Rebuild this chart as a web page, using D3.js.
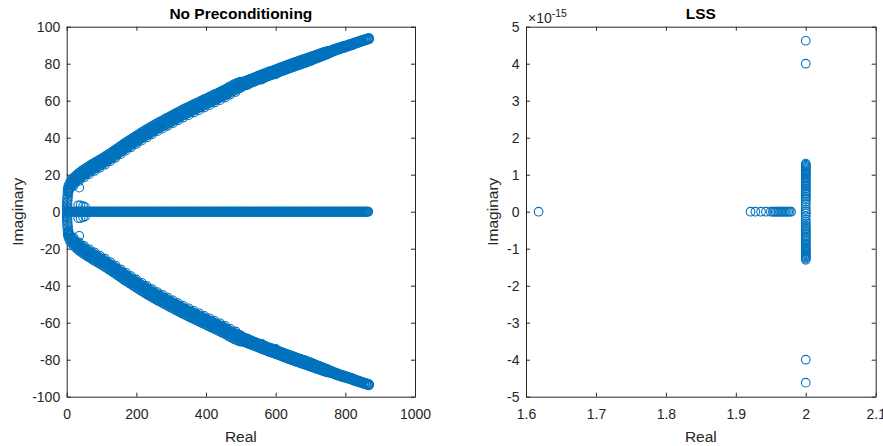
<!DOCTYPE html>
<html>
<head>
<meta charset="utf-8">
<script src="https://cdn.jsdelivr.net/npm/d3@7"></script>
<style>
  body { margin: 0; background: #fff; }
  text { font-family: "Liberation Sans", Arial, Helvetica, sans-serif; }
</style>
</head>
<body>
<svg width="883" height="446"></svg>
<script>
// ---- data: eigenvalues ----

// left panel, complex branch (upper half), several close rows of eigenvalues;
// the lower half is the conjugate of this one
var bandRe = [5,10,15,20,25,30,35,40,45,50,55,60,65,70,75,80,85,90,95,100,
  105,110,115,120,125,130,135,140,145,150,155,160,165,170,175,180,185,190,195,200,
  205,210,215,220,225,230,235,240,245,250,255,260,265,270,275,280,285,290,295,300,
  305,310,315,320,325,330,335,340,345,350,355,360,365,370,375,380,385,390,395,400,
  405,410,415,420,425,430,435,440,445,450,455,460,465,470,475,480,485,490,495,500,
  505,510,515,520,525,530,535,540,545,550,555,560,565,570,575,580,585,590,595,600,
  605,610,615,620,625,630,635,640,645,650,655,660,665,670,675,680,685,690,695,700,
  705,710,715,720,725,730,735,740,745,750,755,760,765,770,775,780,785,790,795,800,
  805,810,815,820,825,830,835,840,845,850,855,860,865,868];
var bandOuterIm = [14.2,16.2,17.4,18.5,19.4,20.2,21.0,21.7,22.4,23.0,23.6,24.2,24.8,25.4,26.0,26.5,27.1,27.6,28.2,28.7,
  29.3,29.9,30.5,31.1,31.7,32.3,33.0,33.6,34.3,34.9,35.6,36.2,36.9,37.5,38.1,38.7,39.3,39.9,40.5,41.1,
  41.7,42.3,42.9,43.5,44.1,44.6,45.2,45.7,46.3,46.8,47.4,47.9,48.4,48.9,49.4,49.9,50.4,50.9,51.4,51.9,
  52.4,52.9,53.4,53.9,54.4,54.9,55.4,55.8,56.3,56.7,57.2,57.6,58.1,58.5,59.0,59.4,59.9,60.3,60.8,61.2,
  61.7,62.1,62.6,63.0,63.5,63.9,64.4,64.8,65.3,65.7,66.2,66.7,67.3,67.8,68.3,68.8,69.2,69.6,70.0,70.3,
  70.2,70.5,70.9,71.3,71.7,72.0,72.4,72.7,73.1,73.5,73.9,74.2,74.6,74.9,75.3,75.7,76.0,76.3,76.7,77.0,
  77.4,77.7,78.1,78.4,78.8,79.1,79.5,79.8,80.2,80.5,80.9,81.2,81.5,81.8,82.2,82.5,82.8,83.1,83.5,83.8,
  84.1,84.4,84.8,85.1,85.4,85.7,86.1,86.4,86.7,87.0,87.0,87.3,87.7,88.0,88.4,88.7,89.0,89.3,89.6,89.8,
  90.1,90.4,90.7,91.0,91.4,91.7,92.0,92.3,92.6,92.9,93.2,93.5,93.8,93.9];
var bandMidIm = [13.0,15.0,16.2,17.3,18.2,19.0,19.8,20.5,21.2,21.8,22.4,23.0,23.6,24.2,24.8,25.3,25.9,26.4,27.0,27.5,
  28.1,28.7,29.3,29.9,30.5,31.1,31.8,32.4,33.1,33.7,34.4,35.0,35.7,36.3,36.9,37.5,38.1,38.7,39.3,39.9,
  40.5,41.1,41.7,42.3,42.9,43.4,44.0,44.5,45.1,45.6,46.2,46.7,47.2,47.7,48.2,48.7,49.2,49.7,50.2,50.7,
  51.2,51.7,52.2,52.7,53.2,53.7,54.2,54.6,55.1,55.5,56.0,56.4,56.9,57.3,57.8,58.2,58.7,59.1,59.6,60.0,
  60.5,60.9,61.4,61.8,62.3,62.7,63.2,63.6,64.1,64.5,65.0,65.5,66.1,66.6,67.1,67.6,68.0,68.4,68.8,69.1,
  69.5,69.8,70.2,70.6,71.0,71.3,71.7,72.0,72.4,72.8,73.2,73.5,73.9,74.2,74.6,75.0,75.3,75.6,76.0,76.3,
  76.7,77.0,77.4,77.7,78.1,78.4,78.8,79.1,79.5,79.8,80.2,80.5,80.8,81.1,81.5,81.8,82.1,82.4,82.8,83.1,
  83.4,83.7,84.1,84.4,84.7,85.0,85.4,85.7,86.0,86.3,86.6,86.9,87.3,87.6,88.0,88.3,88.6,88.9,89.2,89.4,
  89.7,90.0,90.3,90.6,91.0,91.3,91.6,91.9,92.2,92.5,92.8,93.1,93.4,93.5];
var bandInnerIm = [11.9,13.9,15.1,16.2,17.1,17.9,18.7,19.4,20.1,20.7,21.3,21.9,22.5,23.1,23.7,24.2,24.8,25.3,25.9,26.4,
  27.0,27.6,28.2,28.8,29.4,30.0,30.7,31.3,32.0,32.6,33.3,33.9,34.6,35.2,35.8,36.4,37.0,37.6,38.2,38.8,
  39.4,40.0,40.6,41.2,41.8,42.3,42.9,43.4,44.0,44.5,45.1,45.6,46.1,46.6,47.1,47.6,48.1,48.6,49.1,49.6,
  50.1,50.6,51.1,51.6,52.1,52.6,53.1,53.5,54.0,54.4,54.9,55.3,55.8,56.2,56.7,57.1,57.6,58.0,58.5,58.9,
  59.4,59.8,60.3,60.7,61.2,61.6,62.1,62.5,63.0,63.4,63.9,64.4,65.0,65.5,66.0,66.5,66.9,67.3,67.7,68.0,
  68.6,68.9,69.3,69.7,70.1,70.4,70.8,71.1,71.5,71.9,72.3,72.6,73.0,73.3,73.7,74.1,74.4,74.7,75.1,75.4,
  75.8,76.1,76.5,76.8,77.2,77.5,77.9,78.2,78.6,78.9,79.3,79.6,79.9,80.2,80.6,80.9,81.2,81.5,81.9,82.2,
  82.5,82.8,83.2,83.5,83.8,84.1,84.5,84.8,85.1,85.4,85.7,86.0,86.5,86.8,87.2,87.5,87.9,88.2,88.5,88.7,
  89.1,89.4,89.7,90.0,90.5,90.8,91.1,91.4,91.8,92.1,92.4,92.7,93.1,93.2];
// the innermost row stops at Re = 750 (the band narrows towards its end)
var bandInnermostIm = [10.8,12.8,14.0,15.1,16.0,16.8,17.6,18.3,19.0,19.6,20.2,20.8,21.4,22.0,22.6,23.1,23.7,24.2,24.8,25.3,
  25.9,26.5,27.1,27.7,28.3,28.9,29.6,30.2,30.9,31.5,32.2,32.8,33.5,34.1,34.7,35.3,35.9,36.5,37.1,37.7,
  38.3,38.9,39.5,40.1,40.7,41.2,41.8,42.3,42.9,43.4,44.0,44.5,45.0,45.5,46.0,46.5,47.0,47.5,48.0,48.5,
  49.0,49.5,50.0,50.5,51.0,51.5,52.0,52.4,52.9,53.3,53.8,54.2,54.7,55.1,55.6,56.0,56.5,56.9,57.4,57.8,
  58.3,58.7,59.2,59.6,60.1,60.5,61.0,61.4,61.9,62.3,62.8,63.3,63.9,64.4,64.9,65.4,65.8,66.2,66.6,66.9,
  67.8,68.1,68.5,68.9,69.3,69.6,70.0,70.3,70.7,71.1,71.5,71.8,72.2,72.5,72.9,73.3,73.6,73.9,74.3,74.6,
  75.0,75.3,75.7,76.0,76.4,76.7,77.1,77.4,77.8,78.1,78.5,78.8,79.1,79.4,79.8,80.1,80.4,80.7,81.1,81.4,
  81.8,82.2,82.6,83.0,83.3,83.7,84.1,84.5,84.8,85.2];
// loose eigenvalues below the band (upper half)
var bandLoose = [[20,14.0],[35,16.5],[50,18.5],[65,20.3],[80,22.0],[95,23.7],[110,25.4],[125,27.2],
  [140,29.1],[155,31.1],[170,33.0],[185,34.8],[200,36.6],[215,38.4],[230,40.1],[245,41.8],[260,43.4],
  [275,44.9],[290,46.4],[305,47.9],[320,49.4],[335,50.9],[350,52.2],[365,53.6],[380,54.9],[395,56.3],
  [410,57.6],[425,59.0],[440,60.3],[455,61.7],[470,63.3],[485,64.7],[520,68.6],[560,71.4],[600,74.2]];
// the bow next to the origin and the stray ones near it (upper half)
var nearOrigin = [[0,1],[0,3],[0.5,5],[1,7],[1.5,9],[2.5,11],[3,12.5],
  [2,2],[2.5,4],[3,6],[4,8],[5,10],[6,11.5],[8,13],
  [36,13],[33,3.5],[40,3.5],[47,3],[53,2.5]];

// left panel, purely real eigenvalues
var realAxisRe = [0,2,4,6,8,10,12,14,16,18,20,22,24,26,28,30,32,34,36,38,40,42,44,46,48,
  50,52,54,56,58,60,62,64,66,68,70,72,74,76,78,80,82,84,86,88,90,92,94,96,98,
  100,102,104,106,108,110,112,114,116,118,120,122,124,126,128,130,132,134,136,138,140,142,144,146,148,
  150,152,154,156,158,160,162,164,166,168,170,172,174,176,178,180,182,184,186,188,190,192,194,196,198,
  200,202,204,206,208,210,212,214,216,218,220,222,224,226,228,230,232,234,236,238,240,242,244,246,248,
  250,252,254,256,258,260,262,264,266,268,270,272,274,276,278,280,282,284,286,288,290,292,294,296,298,
  300,302,304,306,308,310,312,314,316,318,320,322,324,326,328,330,332,334,336,338,340,342,344,346,348,
  350,352,354,356,358,360,362,364,366,368,370,372,374,376,378,380,382,384,386,388,390,392,394,396,398,
  400,402,404,406,408,410,412,414,416,418,420,422,424,426,428,430,432,434,436,438,440,442,444,446,448,
  450,452,454,456,458,460,462,464,466,468,470,472,474,476,478,480,482,484,486,488,490,492,494,496,498,
  500,502,504,506,508,510,512,514,516,518,520,522,524,526,528,530,532,534,536,538,540,542,544,546,548,
  550,552,554,556,558,560,562,564,566,568,570,572,574,576,578,580,582,584,586,588,590,592,594,596,598,
  600,602,604,606,608,610,612,614,616,618,620,622,624,626,628,630,632,634,636,638,640,642,644,646,648,
  650,652,654,656,658,660,662,664,666,668,670,672,674,676,678,680,682,684,686,688,690,692,694,696,698,
  700,702,704,706,708,710,712,714,716,718,720,722,724,726,728,730,732,734,736,738,740,742,744,746,748,
  750,752,754,756,758,760,762,764,766,768,770,772,774,776,778,780,782,784,786,788,790,792,794,796,798,
  800,802,804,806,808,810,812,814,816,818,820,822,824,826,828,830,832,834,836,838,840,842,844,846,848,
  850,852,854,856,858,860,862,864,866];

// right panel (LSS): real parts, and imaginary parts in units of 1e-15
var lssRealOnAxis = [1.618, 1.921, 1.928, 1.936, 1.943, 1.950, 1.953, 1.955, 1.957, 1.959, 1.961,
  1.963, 1.965, 1.967, 1.969, 1.971, 1.973, 1.975, 1.977, 1.979];
var lssColumnRe = 2;
var lssColumnIm = [0, 0.05, -0.05, 0.12, -0.12, 0.21, -0.21, 0.27, -0.27, 0.32, -0.32, 0.37, -0.37,
  0.41, -0.41, 0.46, -0.46, 0.5, -0.5, 0.54, -0.54, 0.58, -0.58, 0.63, -0.63, 0.67, -0.67,
  0.7, -0.7, 0.74, -0.74, 0.78, -0.78, 0.82, -0.82, 0.86, -0.86, 0.9, -0.9, 0.93, -0.93,
  0.97, -0.97, 1.0, -1.0, 1.03, -1.03, 1.06, -1.06, 1.09, -1.09, 1.12, -1.12, 1.15, -1.15,
  1.18, -1.18, 1.21, -1.21, 1.24, -1.24, 1.27, -1.27, 1.3, -1.3, 4.0, -4.0, 4.62, -4.62];

// ticks
var leftXTicks = [0, 200, 400, 600, 800, 1000];
var leftXLabels = ["0", "200", "400", "600", "800", "1000"];
var leftYTicks = [-100, -80, -60, -40, -20, 0, 20, 40, 60, 80, 100];
var leftYLabels = ["-100", "-80", "-60", "-40", "-20", "0", "20", "40", "60", "80", "100"];
var rightXTicks = [1.6, 1.7, 1.8, 1.9, 2.0, 2.1];
var rightXLabels = ["1.6", "1.7", "1.8", "1.9", "2", "2.1"];
var rightYTicks = [-5, -4, -3, -2, -1, 0, 1, 2, 3, 4, 5];
var rightYLabels = ["-5", "-4", "-3", "-2", "-1", "0", "1", "2", "3", "4", "5"];

// ---- build point lists ----
var upperPts = [];
bandRe.forEach(function(re, i) {
  upperPts.push([re, bandOuterIm[i]], [re, bandMidIm[i]], [re, bandInnerIm[i]]);
  if (i < bandInnermostIm.length) upperPts.push([re, bandInnermostIm[i]]);
});
upperPts = upperPts.concat(bandLoose, nearOrigin);
// complex eigenvalues come in conjugate pairs
var leftPts = realAxisRe.map(function(re) { return [re, 0]; })
  .concat(upperPts)
  .concat(upperPts.map(function(p) { return [p[0], -p[1]]; }));

var rightPts = lssRealOnAxis.map(function(re) { return [re, 0]; })
  .concat(lssColumnIm.map(function(im) { return [lssColumnRe, im]; }));

// ---- drawing ----
var svg = d3.select("svg");
var axisColor = "#262626";
var markColor = "#0072bd";

function drawPanel(o) {
  var x = d3.scaleLinear().domain(o.xDomain).range([o.left, o.right]);
  var y = d3.scaleLinear().domain(o.yDomain).range([o.bottom, o.top]);
  var g = svg.append("g");

  function fmt(ticks, labels) {
    return function(d) { return labels[ticks.indexOf(d)]; };
  }

  var axes = [
    g.append("g").attr("transform", "translate(0," + o.bottom + ")")
      .call(d3.axisBottom(x).tickValues(o.xTicks).tickFormat(fmt(o.xTicks, o.xLabels))
        .tickSize(-4).tickSizeOuter(0).tickPadding(12.7)),
    g.append("g").attr("transform", "translate(0," + o.top + ")")
      .call(d3.axisTop(x).tickValues(o.xTicks).tickFormat("").tickSize(-4).tickSizeOuter(0)),
    g.append("g").attr("transform", "translate(" + o.left + ",0)")
      .call(d3.axisLeft(y).tickValues(o.yTicks).tickFormat(fmt(o.yTicks, o.yLabels))
        .tickSize(-4).tickSizeOuter(0).tickPadding(6.5)),
    g.append("g").attr("transform", "translate(" + o.right + ",0)")
      .call(d3.axisRight(y).tickValues(o.yTicks).tickFormat("").tickSize(-4).tickSizeOuter(0))
  ];
  axes.forEach(function(a) {
    a.attr("font-family", null).attr("font-size", null);
    a.selectAll("path, line").attr("stroke", axisColor);
    a.selectAll("text").attr("fill", axisColor).style("font-size", "14px");
  });

  g.append("g").selectAll("circle")
    .data(o.points)
    .enter().append("circle")
    .attr("cx", function(d) { return x(d[0]); })
    .attr("cy", function(d) { return y(d[1]); })
    .attr("r", 4.3)
    .attr("fill", "none")
    .attr("stroke", markColor)
    .attr("stroke-width", 1.1);

  g.append("text")
    .attr("x", (o.left + o.right) / 2).attr("y", 19)
    .attr("text-anchor", "middle")
    .style("font-size", "15.5px").style("font-weight", "bold")
    .attr("fill", "#000")
    .text(o.title);

  g.append("text")
    .attr("x", (o.left + o.right) / 2).attr("y", 441.7)
    .attr("text-anchor", "middle")
    .style("font-size", "15.5px")
    .attr("fill", axisColor)
    .text("Real");

  g.append("text")
    .attr("transform", "translate(" + o.yLabelX + "," + (o.top + o.bottom) / 2 + ") rotate(-90)")
    .attr("text-anchor", "middle")
    .style("font-size", "15.5px")
    .attr("fill", axisColor)
    .text("Imaginary");

  return g;
}

drawPanel({
  left: 66.7, right: 415, top: 26.7, bottom: 396.7,
  xDomain: [0, 1000], yDomain: [-100, 100],
  xTicks: leftXTicks, xLabels: leftXLabels, yTicks: leftYTicks, yLabels: leftYLabels,
  points: leftPts, title: "No Preconditioning", yLabelX: 23
});

var right = drawPanel({
  left: 526, right: 875.7, top: 26.7, bottom: 396.7,
  xDomain: [1.6, 2.1], yDomain: [-5, 5],
  xTicks: rightXTicks, xLabels: rightXLabels, yTicks: rightYTicks, yLabels: rightYLabels,
  points: rightPts, title: "LSS", yLabelX: 498
});

// exponent label of the right y axis
var expo = right.append("text")
  .attr("x", 528).attr("y", 23)
  .attr("fill", axisColor)
  .style("font-size", "14px");
expo.append("tspan").text("\u00d710");
expo.append("tspan").attr("dy", -6).style("font-size", "10.5px").text("-15");
</script>
</body>
</html>
